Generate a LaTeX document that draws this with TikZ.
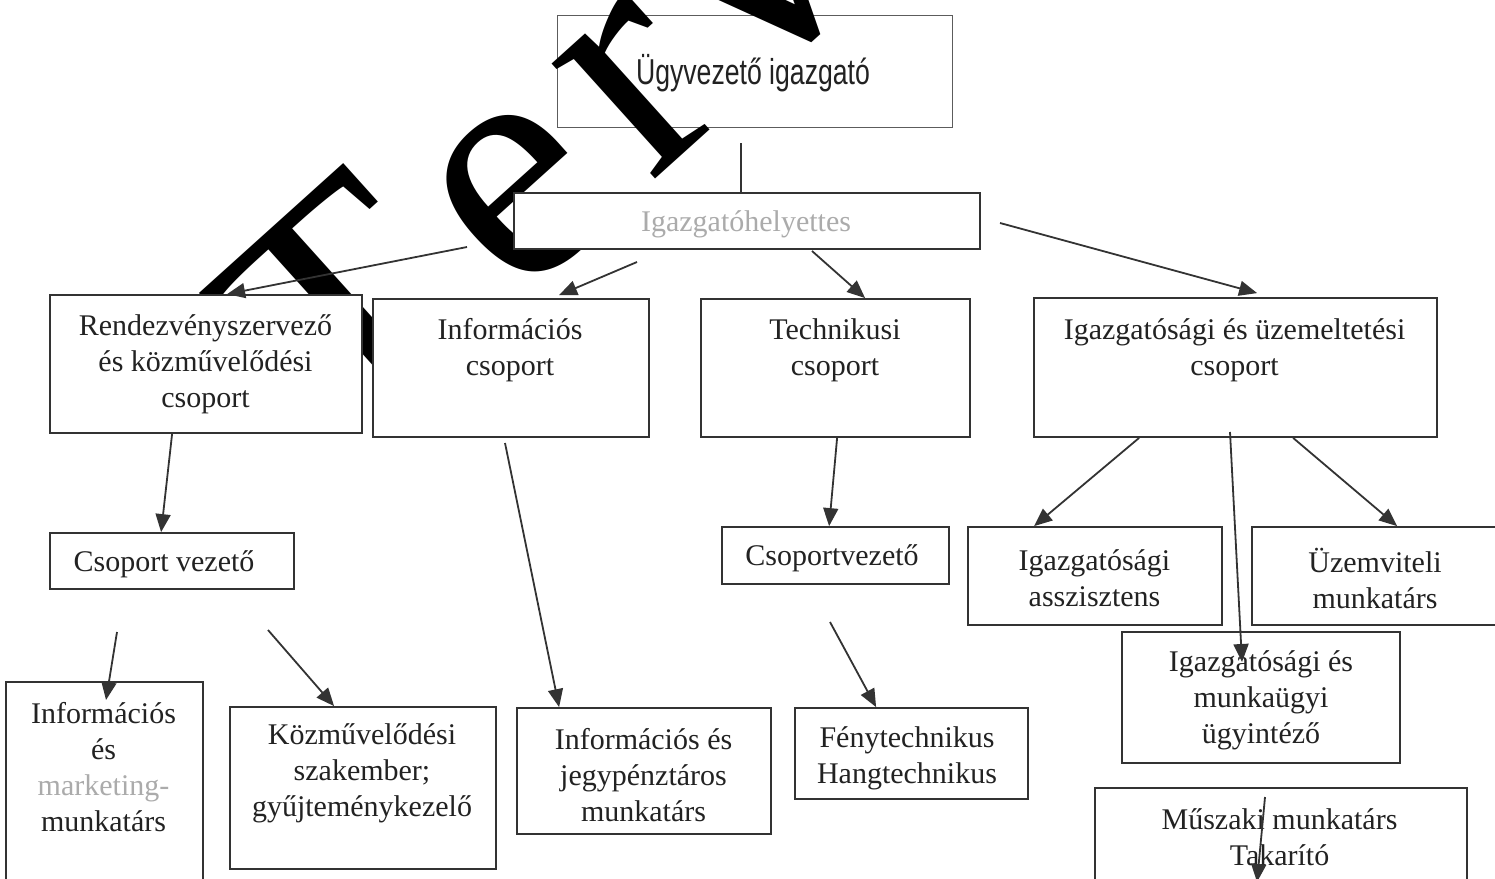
\documentclass[tikz,border=0pt]{standalone}
\usepackage{fontspec}
\setmainfont{Liberation Serif}
\newfontfamily\sansf{Liberation Sans}
\usetikzlibrary{arrows.meta}
\definecolor{boxc}{HTML}{333333}
\definecolor{txtc}{HTML}{222222}
\definecolor{pale}{HTML}{ABABAB}
\tikzset{
  box/.style={draw=boxc, line width=1.8pt, fill=white, inner sep=0pt, rectangle},
  lbl/.style={text=txtc, align=center, inner sep=0pt, font=\fontsize{30}{36}\selectfont},
  ln/.style={draw=boxc, line width=1.8pt},
  arr/.style={draw=boxc, line width=1.8pt, -{Triangle[length=18pt,width=15pt]}},
}
\begin{document}
\begin{tikzpicture}[x=1pt,y=-1pt]
\useasboundingbox (0,0) rectangle (1495,878);
\clip (0,0) rectangle (1495,878);
% top box (unfilled, under the watermark)
\node[draw=boxc!80, line width=1pt, inner sep=0pt, minimum width=395pt, minimum height=112pt] (ugy) at (754.5,71) {};
% watermark
\node[font=\fontsize{337}{337}\selectfont, anchor=base west, rotate=42, inner sep=0pt, text=black] (wm) at (342,461.5) {T\kern30pt e\kern30pt r\kern22pt v};
\node[text=txtc, inner sep=0pt] (tugy) at (753,73) {\sansf\fontsize{36}{40}\selectfont\scalebox{0.74}[1]{Ügyvezető igazgató}};
% boxes
\node[box, minimum width=466pt, minimum height=56pt] (igh) at (747,221) {};
\node[box, minimum width=312pt, minimum height=138pt] (rend) at (206,364) {};
\node[box, minimum width=276pt, minimum height=138pt] (info) at (511,368) {};
\node[box, minimum width=269pt, minimum height=138pt] (tech) at (835.5,368) {};
\node[box, minimum width=403pt, minimum height=139pt] (igu) at (1235.5,367.5) {};
\node[box, minimum width=244pt, minimum height=56pt] (csv) at (172,561) {};
\node[box, minimum width=227pt, minimum height=57pt] (csv2) at (835.5,555.5) {};
\node[box, minimum width=254pt, minimum height=98pt] (ass) at (1095,576) {};
\node[box, minimum width=258pt, minimum height=98pt] (uzem) at (1381,576) {};
\node[box, minimum width=278pt, minimum height=131pt] (mugy) at (1261,697.5) {};
\node[box, minimum width=372pt, minimum height=112pt] (musz) at (1281,844) {};
\node[box, minimum width=197pt, minimum height=218pt] (infm) at (104.5,791) {};
\node[box, minimum width=266pt, minimum height=162pt] (kozm) at (363,788) {};
\node[box, minimum width=254pt, minimum height=126pt] (infj) at (644,771) {};
\node[box, minimum width=233pt, minimum height=91pt] (feny) at (911.5,753.5) {};
% labels
\node[lbl, text=pale] (tigh) at (746,224) {Igazgatóhelyettes};
\node[lbl] (trend) at (205.5,364) {Rendezvényszervező\\és közművelődési\\csoport};
\node[lbl] (tinfo) at (510,350) {Információs\\csoport};
\node[lbl] (ttech) at (835,350) {Technikusi\\csoport};
\node[lbl] (tigu) at (1234.5,350) {Igazgatósági és üzemeltetési\\csoport};
\node[lbl] (tcsv) at (164,564) {Csoport vezető};
\node[lbl] (tcsv2) at (832,558) {Csoportvezető};
\node[lbl] (tass) at (1094.5,578) {Igazgatósági\\asszisztens};
\node[lbl] (tuzem) at (1375,578) {Üzemviteli\\munkatárs};
\node[lbl] (tmugy) at (1261,700) {Igazgatósági és\\munkaügyi\\ügyintéző};
\node[lbl] (tmusz) at (1279.5,837) {Műszaki munkatárs\\Takarító};
\node[lbl] (tinfm) at (103.5,767) {Információs\\és\\\textcolor{pale}{marketing-}\\munkatárs};
\node[lbl] (tkozm) at (362,773) {Közművelődési\\szakember;\\gyűjteménykezelő};
\node[lbl] (tinfj) at (643.5,775) {Információs és\\jegypénztáros\\munkatárs};
\node[lbl] (tfeny) at (907,758) {Fénytechnikus\\Hangtechnikus};
% free ends
\coordinate (a0) at (741,143);
\coordinate (b0) at (467,247);
\coordinate (c0) at (637,262);
\coordinate (d0) at (812,251);
\coordinate (e0) at (1000,223);
\coordinate (g0) at (505,443);
\coordinate (i0) at (117,632);
\coordinate (i1) at (106,700);
\coordinate (j0) at (268,630);
\coordinate (k0) at (830,622);
\coordinate (n0) at (1230,432);
\coordinate (n1) at (1242,662);
\coordinate (o0) at (1265,797);
\coordinate (o1) at (1257,882);
% connectors
\draw[ln] (a0) -- (a0 |- igh.north);
\draw[arr] (b0) -- ([xshift=178pt]rend.north west);
\draw[arr] (c0) -- ([xshift=187pt,yshift=3pt]info.north west);
\draw[arr] (d0) -- ([xshift=165pt]tech.north west);
\draw[arr] (e0) -- ([xshift=224pt,yshift=4pt]igu.north west);
\draw[arr] ([xshift=123pt]rend.south west) -- ([xshift=112pt]csv.north west);
\draw[arr] (g0) -- ([xshift=43pt]infj.north west);
\draw[arr] ([xshift=137pt]tech.south west) -- ([xshift=108pt]csv2.north west);
\draw[arr] (i0) -- (i1);
\draw[arr] (j0) -- ([xshift=105pt]kozm.north west);
\draw[arr] (k0) -- ([xshift=82pt]feny.north west);
\draw[arr] ([xshift=106pt]igu.south west) -- ([xshift=67pt]ass.north west);
\draw[arr] ([xshift=260pt]igu.south west) -- ([xshift=146pt]uzem.north west);
\draw[arr] (n0) -- (n1);
\draw[arr] (o0) -- (o1);
\end{tikzpicture}
\end{document}
